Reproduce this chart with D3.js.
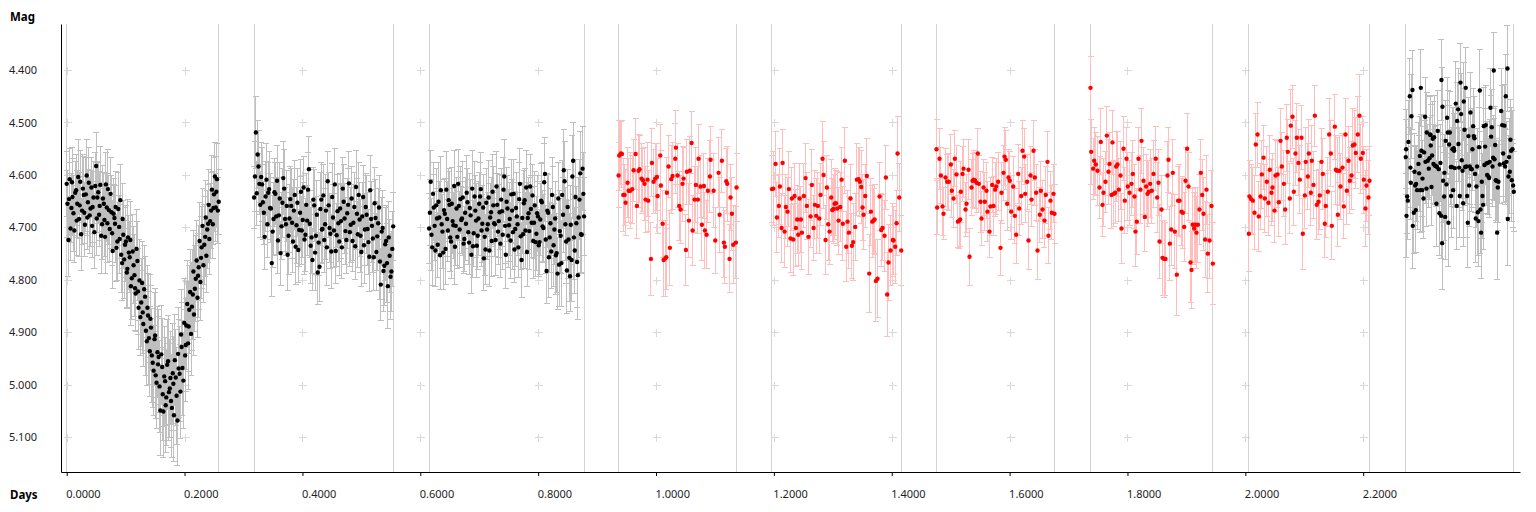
<!DOCTYPE html>
<html><head><meta charset="utf-8">
<script src="https://cdn.jsdelivr.net/npm/d3@7"></script>
<style>body{margin:0;background:#fff}svg{display:block}</style>
</head><body><svg id="c" width="1536" height="512"></svg>
<script>
// ---- data: rows are [day, magnitude, error in mmag] ----
const xTicks = [0, 0.2, 0.4, 0.6, 0.8, 1.0, 1.2, 1.4, 1.6, 1.8, 2.0, 2.2];
const yTicks = [4.4, 4.5, 4.6, 4.7, 4.8, 4.9, 5.0, 5.1];
const xTitle = "Days", yTitle = "Mag";

const seg1 = [[0.000,4.617,62],[0.003,4.724,70],[0.005,4.608,58],[0.008,4.663,66],[0.010,4.642,73],[0.013,4.706,60],[0.016,4.629,68],[0.018,4.655,64],[0.021,4.684,71],[0.023,4.613,59],
[0.026,4.668,65],[0.029,4.638,74],[0.031,4.695,61],[0.034,4.601,69],[0.036,4.652,63],[0.039,4.677,72],[0.042,4.624,58],[0.044,4.661,67],[0.047,4.709,70],[0.050,4.583,64],
[0.052,4.643,66],[0.055,4.676,61],[0.057,4.619,73],[0.060,4.694,68],[0.063,4.655,59],[0.065,4.718,70],[0.068,4.662,64],[0.070,4.627,75],[0.073,4.703,62],[0.076,4.671,69],
[0.078,4.745,71],[0.081,4.682,63],[0.083,4.661,67],[0.086,4.727,74],[0.089,4.699,60],[0.091,4.648,68],[0.094,4.768,72],[0.096,4.714,65],[0.099,4.733,70],[0.102,4.786,66],
[0.104,4.719,73],[0.107,4.757,68],[0.109,4.812,75],[0.112,4.746,70],[0.115,4.791,78],[0.117,4.826,72],[0.120,4.764,76],[0.122,4.853,80],[0.125,4.871,74],[0.128,4.806,79],
[0.130,4.884,82],[0.133,4.832,77],[0.136,4.917,84],[0.138,4.868,80],[0.141,4.936,86],[0.143,4.891,81],[0.146,4.958,85],[0.149,4.913,88],[0.151,4.982,83],[0.154,4.938,87],
[0.156,4.947,90],[0.159,5.049,86],[0.162,4.966,92],[0.164,5.051,88],[0.167,4.993,84],[0.169,5.024,91],[0.172,4.955,87],[0.175,5.007,93],[0.177,5.031,89],[0.180,4.978,95],
[0.182,5.058,88],[0.185,4.986,92],[0.188,5.068,86],[0.190,4.969,94],[0.193,5.013,90],[0.195,4.928,85],[0.198,4.992,91],[0.201,4.944,87],[0.203,4.887,83],[0.206,4.921,88],
[0.208,4.857,84],[0.211,4.903,80],[0.214,4.828,86],[0.216,4.866,78],[0.219,4.798,82],[0.222,4.834,76],[0.224,4.776,80],[0.227,4.804,74],[0.229,4.738,78],[0.232,4.772,72],
[0.235,4.718,76],[0.237,4.754,70],[0.240,4.693,74],[0.242,4.722,68],[0.245,4.668,72],[0.248,4.694,66],[0.250,4.637,70],[0.253,4.662,64],[0.255,4.608,68],[0.258,4.651,62]];

const seg1b = [[0.0013,4.655,64],[0.0040,4.646,70],[0.0065,4.702,61],[0.0090,4.614,67],[0.0115,4.673,72],[0.0145,4.634,60],[0.0170,4.687,66],[0.0195,4.604,71],[0.0220,4.658,63],[0.0245,4.713,69],
[0.0275,4.626,65],[0.0300,4.672,58],[0.0325,4.637,70],[0.0350,4.681,62],[0.0375,4.615,67],[0.0405,4.664,73],[0.0430,4.697,61],[0.0455,4.643,68],[0.0485,4.621,64],[0.0510,4.683,70],
[0.0535,4.633,59],[0.0560,4.659,66],[0.0585,4.716,72],[0.0615,4.645,63],[0.0640,4.686,69],[0.0665,4.618,61],[0.0690,4.692,74],[0.0715,4.667,65],[0.0745,4.636,70],[0.0770,4.711,62],
[0.0795,4.674,68],[0.0820,4.693,73],[0.0845,4.739,64],[0.0875,4.665,70],[0.0900,4.722,66],[0.0925,4.752,72],[0.0950,4.684,68],[0.0975,4.761,74],[0.1005,4.727,69],[0.1030,4.779,76],
[0.1055,4.748,71],[0.1080,4.724,74],[0.1105,4.797,78],[0.1135,4.772,73],[0.1160,4.816,80],[0.1185,4.741,75],[0.1210,4.822,82],[0.1235,4.801,77],[0.1265,4.843,84],[0.1290,4.862,79],
[0.1315,4.818,83],[0.1345,4.897,86],[0.1370,4.853,81],[0.1395,4.911,88],[0.1420,4.874,84],[0.1445,4.944,89],[0.1475,4.973,86],[0.1500,4.906,90],[0.1525,4.996,87],[0.1550,4.961,92],
[0.1575,5.003,88],[0.1605,4.942,93],[0.1630,5.018,89],[0.1655,4.984,95],[0.1680,5.039,90],[0.1705,4.962,86],[0.1735,5.014,92],[0.1760,4.987,88],[0.1785,5.044,94],[0.1810,4.998,90],
[0.1835,4.953,87],[0.1865,5.021,93],[0.1890,4.941,89],[0.1915,4.979,91],[0.1940,4.904,86],[0.1965,4.968,90],[0.1995,4.882,84],[0.2020,4.924,88],[0.2045,4.846,82],[0.2070,4.889,86],
[0.2095,4.823,80],[0.2125,4.851,84],[0.2150,4.784,78],[0.2175,4.817,82],[0.2205,4.763,76],[0.2230,4.792,80],[0.2255,4.726,74],[0.2280,4.758,78],[0.2305,4.697,72],[0.2335,4.733,76],
[0.2360,4.681,70],[0.2385,4.704,74],[0.2410,4.657,68],[0.2435,4.688,72],[0.2465,4.628,66],[0.2490,4.663,70],[0.2515,4.603,64],[0.2540,4.632,68],[0.2565,4.668,63]];

const seg2 = [[0.318,4.643,60],[0.321,4.519,68],[0.324,4.561,64],[0.327,4.617,58],[0.330,4.604,66],[0.333,4.652,71],[0.336,4.718,62],[0.339,4.609,69],[0.342,4.634,57],[0.345,4.663,65],
[0.348,4.768,63],[0.351,4.684,70],[0.354,4.636,59],[0.357,4.611,67],[0.360,4.677,72],[0.363,4.749,61],[0.366,4.653,66],[0.369,4.626,74],[0.372,4.694,60],[0.375,4.752,68],
[0.378,4.683,64],[0.381,4.659,71],[0.384,4.727,58],[0.387,4.638,66],[0.390,4.696,73],[0.393,4.743,62],[0.396,4.672,69],[0.399,4.706,65],[0.402,4.624,60],[0.405,4.714,70],
[0.408,4.687,67],[0.411,4.589,63],[0.414,4.735,72],[0.417,4.762,59],[0.420,4.658,68],[0.423,4.716,74],[0.426,4.786,61],[0.429,4.775,66],[0.432,4.647,70],[0.434,4.703,64],
[0.437,4.724,62],[0.440,4.668,69],[0.443,4.612,57],[0.446,4.701,65],[0.449,4.746,71],[0.452,4.681,63],[0.455,4.618,68],[0.458,4.715,60],[0.461,4.692,73],[0.464,4.664,66],
[0.467,4.738,59],[0.470,4.651,70],[0.473,4.707,64],[0.476,4.673,67],[0.479,4.616,61],[0.482,4.695,72],[0.485,4.726,58],[0.488,4.661,66],[0.491,4.623,69],[0.494,4.713,63],
[0.497,4.685,71],[0.500,4.747,65],[0.503,4.642,60],[0.506,4.704,68],[0.509,4.676,74],[0.512,4.728,62],[0.515,4.629,67],[0.518,4.697,70],[0.521,4.757,64],[0.524,4.682,73],
[0.527,4.717,66],[0.530,4.662,61],[0.533,4.809,69],[0.536,4.701,72],[0.539,4.773,75],[0.542,4.726,68],[0.545,4.812,80],[0.548,4.754,70],[0.551,4.784,77],[0.554,4.698,65]];

const seg2b = [[0.3195,4.603,66],[0.3225,4.635,61],[0.3255,4.584,69],[0.3285,4.657,63],[0.3315,4.618,70],[0.3345,4.672,60],[0.3375,4.641,67],[0.3405,4.694,64],[0.3435,4.627,71],[0.3465,4.664,59],
[0.3495,4.708,68],[0.3525,4.633,65],[0.3555,4.679,72],[0.3585,4.725,62],[0.3615,4.645,69],[0.3645,4.698,64],[0.3675,4.606,70],[0.3705,4.684,61],[0.3735,4.659,67],[0.3765,4.716,73],
[0.3795,4.646,63],[0.3825,4.691,68],[0.3855,4.668,60],[0.3885,4.737,71],[0.3915,4.653,65],[0.3945,4.705,69],[0.3975,4.632,62],[0.4005,4.686,72],[0.4035,4.723,66],[0.4065,4.657,60],
[0.4095,4.628,70],[0.4125,4.693,64],[0.4155,4.719,68],[0.4185,4.647,61],[0.4215,4.748,73],[0.4245,4.676,66],[0.4275,4.729,63],[0.4305,4.665,70],[0.4330,4.704,65],[0.4355,4.639,59],
[0.4385,4.694,68],[0.4415,4.738,72],[0.4445,4.658,62],[0.4475,4.712,67],[0.4505,4.642,64],[0.4535,4.706,70],[0.4565,4.745,61],[0.4595,4.669,69],[0.4625,4.727,65],[0.4655,4.688,71],
[0.4685,4.626,60],[0.4715,4.683,67],[0.4745,4.724,63],[0.4775,4.657,70],[0.4805,4.709,66],[0.4835,4.645,62],[0.4865,4.691,72],[0.4895,4.736,64],[0.4925,4.674,68],[0.4955,4.638,61],
[0.4985,4.716,70],[0.5015,4.679,65],[0.5045,4.734,73],[0.5075,4.661,63],[0.5105,4.703,69],[0.5135,4.756,66],[0.5165,4.684,71],[0.5195,4.721,64],[0.5225,4.654,68],[0.5255,4.747,74],
[0.5285,4.692,67],[0.5315,4.765,72],[0.5345,4.708,65],[0.5375,4.783,78],[0.5405,4.732,70],[0.5435,4.768,76],[0.5465,4.719,69],[0.5495,4.794,82],[0.5525,4.741,72]];

const seg3 = [[0.6150,4.702,66],[0.6177,4.613,60],[0.6203,4.738,72],[0.6230,4.662,63],[0.6256,4.744,69],[0.6283,4.683,58],[0.6309,4.651,74],[0.6336,4.753,65],[0.6363,4.694,61],[0.6389,4.748,70],
[0.6416,4.674,67],[0.6442,4.628,73],[0.6469,4.706,59],[0.6495,4.657,64],[0.6522,4.727,71],[0.6549,4.688,62],[0.6575,4.621,68],[0.6602,4.697,75],[0.6628,4.718,60],[0.6655,4.659,66],
[0.6681,4.646,63],[0.6708,4.683,70],[0.6735,4.731,57],[0.6761,4.672,68],[0.6788,4.634,72],[0.6814,4.709,61],[0.6841,4.663,65],[0.6867,4.752,74],[0.6894,4.736,59],[0.6921,4.641,67],
[0.6947,4.687,71],[0.6974,4.716,64],[0.7000,4.655,60],[0.7027,4.627,69],[0.7053,4.693,73],[0.7080,4.759,62],[0.7107,4.742,66],[0.7133,4.704,58],[0.7160,4.643,70],[0.7186,4.681,65],
[0.7213,4.726,68],[0.7239,4.658,74],[0.7266,4.694,61],[0.7293,4.622,67],[0.7319,4.708,63],[0.7346,4.671,72],[0.7372,4.647,59],[0.7399,4.714,66],[0.7425,4.603,70],[0.7452,4.752,64],
[0.7479,4.664,62],[0.7505,4.696,69],[0.7532,4.725,73],[0.7558,4.668,60],[0.7585,4.636,66],[0.7611,4.703,71],[0.7638,4.679,64],[0.7664,4.738,58],[0.7691,4.617,68],[0.7718,4.762,72],
[0.7744,4.713,65],[0.7771,4.648,61],[0.7797,4.624,70],[0.7824,4.682,67],[0.7850,4.707,74],[0.7877,4.665,63],[0.7904,4.639,59],[0.7930,4.691,69],[0.7957,4.728,66],[0.7983,4.673,72],
[0.8010,4.734,60],[0.8036,4.685,68],[0.8063,4.652,75],[0.8090,4.701,64],[0.8116,4.598,70],[0.8143,4.783,62],[0.8169,4.672,73],[0.8196,4.719,67],[0.8222,4.746,71],[0.8249,4.661,78],
[0.8276,4.704,66],[0.8302,4.753,74],[0.8329,4.788,69],[0.8355,4.771,80],[0.8382,4.716,72],[0.8408,4.638,65],[0.8435,4.591,77],[0.8462,4.694,70],[0.8488,4.782,83],[0.8515,4.723,75],
[0.8541,4.793,68],[0.8568,4.762,79],[0.8594,4.573,73],[0.8621,4.744,82],[0.8648,4.692,70],[0.8674,4.791,85],[0.8701,4.647,76],[0.8727,4.713,72],[0.8754,4.588,80],[0.8780,4.679,74]];

const seg3b = [[0.6163,4.672,63],[0.6190,4.714,69],[0.6217,4.636,60],[0.6243,4.697,66],[0.6270,4.658,71],[0.6296,4.733,62],[0.6323,4.681,68],[0.6349,4.629,64],[0.6376,4.708,70],[0.6403,4.667,59],
[0.6429,4.741,67],[0.6456,4.684,72],[0.6482,4.648,61],[0.6509,4.719,65],[0.6535,4.655,69],[0.6562,4.696,63],[0.6589,4.737,71],[0.6615,4.664,60],[0.6642,4.617,66],[0.6668,4.704,73],
[0.6695,4.686,64],[0.6721,4.643,68],[0.6748,4.722,62],[0.6775,4.693,70],[0.6801,4.652,65],[0.6828,4.729,61],[0.6854,4.677,69],[0.6881,4.626,72],[0.6907,4.711,63],[0.6934,4.668,67],
[0.6960,4.735,60],[0.6987,4.683,70],[0.7014,4.641,64],[0.7040,4.706,68],[0.7067,4.662,62],[0.7093,4.718,73],[0.7120,4.653,65],[0.7146,4.694,61],[0.7173,4.744,69],[0.7200,4.671,66],
[0.7226,4.632,71],[0.7253,4.692,63],[0.7279,4.724,67],[0.7306,4.657,60],[0.7332,4.688,70],[0.7359,4.731,64],[0.7386,4.669,68],[0.7412,4.628,62],[0.7439,4.697,72],[0.7465,4.651,65],
[0.7492,4.716,61],[0.7518,4.684,69],[0.7545,4.637,66],[0.7572,4.709,71],[0.7598,4.742,63],[0.7625,4.663,67],[0.7651,4.694,60],[0.7678,4.646,70],[0.7704,4.717,64],[0.7731,4.682,68],
[0.7757,4.654,62],[0.7784,4.706,73],[0.7811,4.747,65],[0.7837,4.673,69],[0.7864,4.622,61],[0.7890,4.691,67],[0.7917,4.726,72],[0.7943,4.658,64],[0.7970,4.712,70],[0.7997,4.679,66],
[0.8023,4.728,62],[0.8050,4.649,71],[0.8076,4.698,68],[0.8103,4.614,74],[0.8129,4.723,65],[0.8156,4.668,70],[0.8183,4.757,77],[0.8209,4.692,67],[0.8236,4.638,72],[0.8262,4.734,79],
[0.8289,4.683,70],[0.8315,4.749,75],[0.8342,4.645,68],[0.8368,4.707,78],[0.8395,4.768,82],[0.8422,4.676,72],[0.8448,4.612,76],[0.8475,4.727,80],[0.8501,4.661,71],[0.8528,4.758,84],
[0.8554,4.695,75],[0.8581,4.603,78],[0.8608,4.719,81],[0.8634,4.642,72],[0.8661,4.766,86],[0.8687,4.681,77],[0.8714,4.597,80],[0.8740,4.714,74],[0.8767,4.636,78]];

const seg4 = [[0.9365,4.601,62],[0.9376,4.563,66],[0.9405,4.559,60],[0.9422,4.560,64],[0.9444,4.638,70],[0.9467,4.638,58],[0.9484,4.653,63],[0.9518,4.615,67],[0.9535,4.630,61],[0.9563,4.630,72],
[0.9597,4.627,65],[0.9620,4.591,59],[0.9654,4.560,68],[0.9676,4.659,62],[0.9704,4.592,70],[0.9721,4.589,64],[0.9755,4.607,66],[0.9778,4.610,60],[0.9806,4.617,69],[0.9823,4.647,63],
[0.9857,4.609,71],[0.9868,4.649,58],[0.9914,4.760,70],[0.9931,4.577,65],[0.9959,4.613,61],[0.9987,4.607,67],[1.0016,4.604,63],[1.0027,4.640,72],[1.0072,4.563,60],[1.0083,4.620,66],
[1.0112,4.693,64],[1.0129,4.762,69],[1.0157,4.759,73],[1.0174,4.757,62],[1.0185,4.634,68],[1.0213,4.584,59],[1.0236,4.739,71],[1.0259,4.608,65],[1.0281,4.602,63],[1.0327,4.569,67],
[1.0338,4.548,70],[1.0366,4.601,61],[1.0394,4.659,66],[1.0417,4.666,64],[1.0451,4.617,72],[1.0468,4.607,60],[1.0508,4.743,68],[1.0525,4.594,62],[1.0558,4.687,70],[1.0575,4.592,65],
[1.0604,4.539,59],[1.0621,4.706,67],[1.0655,4.647,63],[1.0677,4.619,71],[1.0711,4.647,64],[1.0722,4.569,66],[1.0756,4.622,60],[1.0779,4.695,69],[1.0813,4.621,62],[1.0830,4.706,73],
[1.0858,4.714,65],[1.0881,4.630,61],[1.0915,4.603,68],[1.0926,4.571,64],[1.0977,4.630,70],[1.1005,4.725,63],[1.1062,4.596,67],[1.1079,4.676,72],[1.1118,4.573,60],[1.1152,4.729,66],
[1.1169,4.737,69],[1.1192,4.612,62],[1.1209,4.617,71],[1.1248,4.760,65],[1.1265,4.643,63],[1.1288,4.674,70],[1.1311,4.733,74],[1.1356,4.729,68],[1.1367,4.624,64]];

const seg5 = [[1.1967,4.627,64],[1.1989,4.626,70],[1.2029,4.579,62],[1.2052,4.681,67],[1.2085,4.659,60],[1.2102,4.622,72],[1.2131,4.701,65],[1.2148,4.577,63],[1.2182,4.708,69],[1.2204,4.661,61],
[1.2232,4.670,66],[1.2255,4.627,71],[1.2283,4.721,64],[1.2306,4.645,60],[1.2329,4.723,68],[1.2351,4.640,62],[1.2374,4.701,73],[1.2396,4.685,65],[1.2413,4.714,59],[1.2436,4.645,67],
[1.2459,4.685,63],[1.2476,4.710,70],[1.2510,4.640,61],[1.2538,4.606,66],[1.2560,4.659,64],[1.2589,4.718,72],[1.2623,4.679,60],[1.2645,4.619,68],[1.2674,4.701,62],[1.2696,4.657,65],
[1.2719,4.678,71],[1.2747,4.659,63],[1.2770,4.683,67],[1.2792,4.638,59],[1.2826,4.569,70],[1.2843,4.600,64],[1.2877,4.724,66],[1.2900,4.624,61],[1.2922,4.694,69],[1.2945,4.708,63],
[1.2973,4.643,72],[1.2990,4.667,60],[1.3013,4.665,65],[1.3030,4.655,68],[1.3053,4.654,62],[1.3075,4.664,70],[1.3098,4.687,64],[1.3126,4.661,66],[1.3149,4.609,61],[1.3171,4.693,71],
[1.3205,4.573,63],[1.3228,4.737,67],[1.3250,4.689,60],[1.3273,4.710,69],[1.3301,4.645,65],[1.3324,4.735,62],[1.3346,4.728,73],[1.3380,4.699,64],[1.3409,4.609,68],[1.3437,4.608,61],
[1.3460,4.613,66],[1.3482,4.623,70],[1.3505,4.662,63],[1.3522,4.676,67],[1.3550,4.640,60],[1.3578,4.602,72],[1.3618,4.788,75],[1.3646,4.670,64],[1.3669,4.689,69],[1.3692,4.687,62],
[1.3709,4.685,66],[1.3731,4.802,78],[1.3759,4.798,74],[1.3793,4.641,65],[1.3822,4.705,70],[1.3844,4.701,63],[1.3878,4.716,68],[1.3901,4.605,61],[1.3923,4.828,80],[1.3946,4.767,72],
[1.3980,4.744,66],[1.4020,4.724,70],[1.4031,4.725,64],[1.4059,4.737,69],[1.4082,4.692,62],[1.4099,4.559,71],[1.4127,4.643,65],[1.4161,4.744,67]];

const seg6 = [[1.4760,4.551,56],[1.4771,4.662,52],[1.4811,4.569,58],[1.4834,4.601,53],[1.4862,4.660,56],[1.4879,4.674,50],[1.4913,4.605,55],[1.4941,4.613,52],[1.4969,4.613,54],[1.5003,4.580,57],
[1.5020,4.630,51],[1.5049,4.645,55],[1.5071,4.569,53],[1.5099,4.599,56],[1.5122,4.689,50],[1.5145,4.687,54],[1.5162,4.685,52],[1.5173,4.632,58],[1.5201,4.598,53],[1.5218,4.588,55],
[1.5252,4.666,51],[1.5269,4.655,55],[1.5303,4.590,57],[1.5320,4.756,54],[1.5354,4.624,54],[1.5371,4.611,52],[1.5393,4.609,55],[1.5416,4.611,53],[1.5439,4.615,56],[1.5461,4.559,48],
[1.5478,4.617,55],[1.5507,4.651,58],[1.5524,4.683,52],[1.5558,4.624,54],[1.5580,4.651,55],[1.5608,4.630,53],[1.5625,4.670,57],[1.5659,4.708,50],[1.5676,4.660,55],[1.5705,4.619,53],
[1.5727,4.659,56],[1.5755,4.628,51],[1.5772,4.622,54],[1.5806,4.613,55],[1.5846,4.739,52],[1.5863,4.634,58],[1.5897,4.596,53],[1.5914,4.565,55],[1.5936,4.571,56],[1.5959,4.655,51],
[1.5982,4.605,54],[1.6004,4.611,55],[1.6027,4.670,53],[1.6061,4.622,57],[1.6089,4.678,52],[1.6112,4.714,55],[1.6146,4.598,56],[1.6163,4.664,51],[1.6197,4.640,54],[1.6219,4.554,58],
[1.6248,4.565,53],[1.6265,4.636,55],[1.6298,4.613,52],[1.6321,4.725,55],[1.6355,4.601,56],[1.6372,4.647,51],[1.6406,4.554,57],[1.6428,4.605,54],[1.6451,4.634,53],[1.6474,4.744,55],
[1.6513,4.676,52],[1.6530,4.630,55],[1.6559,4.666,56],[1.6592,4.687,51],[1.6615,4.638,54],[1.6643,4.575,58],[1.6660,4.716,53],[1.6694,4.649,55],[1.6717,4.672,52],[1.6745,4.636,55],
[1.6762,4.674,56]];

const seg7 = [[1.7373,4.434,60],[1.7384,4.556,62],[1.7418,4.588,58],[1.7435,4.573,64],[1.7463,4.580,60],[1.7492,4.592,66],[1.7526,4.624,59],[1.7548,4.537,63],[1.7577,4.657,61],[1.7593,4.634,65],
[1.7627,4.613,58],[1.7650,4.525,55],[1.7678,4.594,62],[1.7695,4.579,60],[1.7729,4.638,64],[1.7746,4.538,61],[1.7769,4.636,63],[1.7791,4.634,59],[1.7808,4.584,66],[1.7831,4.580,62],
[1.7854,4.628,60],[1.7882,4.601,64],[1.7899,4.702,66],[1.7933,4.550,61],[1.7955,4.649,63],[1.7984,4.569,59],[1.8006,4.622,65],[1.8035,4.634,62],[1.8069,4.617,60],[1.8091,4.598,64],
[1.8119,4.641,61],[1.8136,4.708,67],[1.8159,4.689,63],[1.8187,4.569,60],[1.8221,4.628,65],[1.8238,4.535,62],[1.8272,4.611,64],[1.8295,4.680,66],[1.8317,4.622,61],[1.8340,4.636,63],
[1.8363,4.632,60],[1.8385,4.617,65],[1.8413,4.630,62],[1.8442,4.598,64],[1.8481,4.569,61],[1.8504,4.643,66],[1.8527,4.615,63],[1.8544,4.727,70],[1.8578,4.666,64],[1.8595,4.758,72],
[1.8623,4.760,74],[1.8645,4.760,70],[1.8679,4.601,65],[1.8696,4.571,62],[1.8719,4.731,71],[1.8742,4.704,68],[1.8770,4.596,63],[1.8804,4.708,70],[1.8838,4.790,78],[1.8860,4.649,66],
[1.8883,4.649,68],[1.8917,4.670,64],[1.8940,4.672,69],[1.8962,4.699,66],[1.8985,4.611,63],[1.9013,4.550,67],[1.9036,4.622,65],[1.9070,4.767,76],[1.9087,4.781,74],[1.9109,4.695,70],
[1.9132,4.702,68],[1.9149,4.695,72],[1.9171,4.710,69],[1.9194,4.695,71],[1.9222,4.666,66],[1.9245,4.596,64],[1.9268,4.638,68],[1.9290,4.674,70],[1.9318,4.723,73],[1.9341,4.628,66],
[1.9364,4.750,75],[1.9392,4.725,72],[1.9426,4.659,68],[1.9449,4.769,78]];

const seg8 = [[2.0060,4.712,72],[2.0071,4.641,68],[2.0099,4.646,66],[2.0128,4.649,64],[2.0156,4.672,70],[2.0178,4.542,60],[2.0207,4.523,62],[2.0229,4.679,66],[2.0258,4.641,63],[2.0280,4.599,65],
[2.0309,4.567,61],[2.0331,4.645,64],[2.0365,4.613,67],[2.0393,4.653,62],[2.0416,4.590,66],[2.0444,4.634,63],[2.0461,4.624,65],[2.0495,4.668,61],[2.0512,4.601,68],[2.0546,4.599,64],
[2.0569,4.652,66],[2.0597,4.535,62],[2.0620,4.584,65],[2.0654,4.617,63],[2.0676,4.666,67],[2.0704,4.529,64],[2.0721,4.556,61],[2.0755,4.645,66],[2.0772,4.506,68],[2.0801,4.489,60],
[2.0823,4.632,64],[2.0851,4.559,62],[2.0874,4.529,66],[2.0902,4.577,63],[2.0925,4.609,65],[2.0953,4.529,61],[2.0976,4.712,68],[2.1010,4.639,64],[2.1027,4.575,66],[2.1061,4.603,62],
[2.1078,4.559,65],[2.1112,4.634,63],[2.1129,4.573,67],[2.1157,4.619,64],[2.1180,4.487,58],[2.1213,4.657,66],[2.1242,4.651,62],[2.1264,4.639,65],[2.1293,4.575,63],[2.1315,4.598,67],
[2.1349,4.693,64],[2.1366,4.659,61],[2.1400,4.632,66],[2.1423,4.523,68],[2.1451,4.559,63],[2.1468,4.697,65],[2.1519,4.508,62],[2.1536,4.590,66],[2.1558,4.592,64],[2.1570,4.676,61],
[2.1598,4.592,67],[2.1615,4.622,63],[2.1649,4.586,65],[2.1672,4.660,62],[2.1700,4.523,68],[2.1723,4.630,64],[2.1751,4.573,66],[2.1774,4.611,63],[2.1802,4.601,65],[2.1824,4.544,70],
[2.1853,4.542,64],[2.1875,4.558,67],[2.1909,4.523,72],[2.1937,4.487,78],[2.1960,4.569,66],[2.1994,4.558,70],[2.2011,4.609,64],[2.2039,4.664,72],[2.2056,4.620,68],[2.2090,4.643,70],
[2.2107,4.611,66]];

const seg9 = [[2.2723,4.566,72],[2.2729,4.551,75],[2.2735,4.678,80],[2.2746,4.641,70],[2.2757,4.649,74],[2.2768,4.537,78],[2.2791,4.450,72],[2.2802,4.586,76],[2.2808,4.615,70],[2.2819,4.488,80],
[2.2836,4.438,75],[2.2842,4.697,82],[2.2859,4.672,78],[2.2870,4.594,73],[2.2882,4.620,77],[2.2893,4.667,80],[2.2898,4.617,71],[2.2915,4.629,75],[2.2938,4.579,79],[2.2949,4.597,72],
[2.2961,4.564,76],[2.2972,4.629,80],[2.2978,4.434,74],[2.2989,4.554,70],[2.3000,4.629,78],[2.3006,4.607,73],[2.3023,4.645,77],[2.3034,4.557,71],[2.3051,4.489,75],[2.3057,4.575,79],
[2.3074,4.626,72],[2.3079,4.519,76],[2.3096,4.573,70],[2.3113,4.588,74],[2.3125,4.568,78],[2.3136,4.523,72],[2.3142,4.524,75],[2.3147,4.544,79],[2.3159,4.623,73],[2.3170,4.563,77],
[2.3181,4.531,71],[2.3193,4.579,75],[2.3204,4.528,80],[2.3215,4.582,74],[2.3232,4.583,78],[2.3243,4.655,82],[2.3255,4.585,72],[2.3266,4.516,76],[2.3283,4.589,70],[2.3294,4.673,80],
[2.3311,4.577,74],[2.3323,4.678,82],[2.3328,4.419,78],[2.3340,4.730,88],[2.3345,4.470,75],[2.3357,4.611,79],[2.3374,4.641,84],[2.3379,4.596,73],[2.3391,4.680,81],[2.3402,4.535,77],
[2.3413,4.618,71],[2.3424,4.491,76],[2.3436,4.519,80],[2.3447,4.691,84],[2.3458,4.542,74],[2.3470,4.519,78],[2.3487,4.585,72],[2.3492,4.640,80],[2.3504,4.585,75],[2.3515,4.551,79],
[2.3526,4.629,73],[2.3538,4.549,77],[2.3543,4.554,71],[2.3555,4.587,75],[2.3571,4.464,80],[2.3588,4.659,84],[2.3594,4.497,74],[2.3611,4.475,78],[2.3617,4.541,72],[2.3628,4.586,76],
[2.3639,4.640,80],[2.3651,4.424,74],[2.3662,4.484,78],[2.3673,4.572,72],[2.3685,4.592,76],[2.3696,4.654,82],[2.3707,4.460,75],[2.3719,4.514,79],[2.3730,4.585,73],[2.3741,4.434,77],
[2.3752,4.584,71],[2.3764,4.640,80],[2.3775,4.691,86],[2.3786,4.526,74],[2.3798,4.620,78],[2.3809,4.584,72],[2.3820,4.481,76],[2.3832,4.589,80],[2.3843,4.589,74],[2.3854,4.551,78],
[2.3866,4.507,72],[2.3877,4.526,76],[2.3888,4.530,80],[2.3899,4.598,74],[2.3911,4.683,84],[2.3922,4.622,78],[2.3933,4.584,72],[2.3945,4.671,82],[2.3956,4.688,86],[2.3967,4.547,75],
[2.3979,4.439,79],[2.3990,4.666,83],[2.4001,4.710,88],[2.4013,4.613,77],[2.4024,4.640,81],[2.4035,4.657,85],[2.4047,4.507,74],[2.4058,4.581,78],[2.4069,4.546,72],[2.4080,4.505,76],
[2.4092,4.578,80],[2.4103,4.600,74],[2.4114,4.577,78],[2.4126,4.603,72],[2.4137,4.606,76],[2.4148,4.575,80],[2.4160,4.472,74],[2.4171,4.527,78],[2.4182,4.509,72],[2.4194,4.584,76],
[2.4205,4.567,80],[2.4216,4.401,72],[2.4228,4.570,78],[2.4239,4.543,74],[2.4250,4.610,80],[2.4261,4.611,76],[2.4273,4.710,90],[2.4284,4.624,82],[2.4295,4.613,78],[2.4318,4.580,74],
[2.4341,4.478,80],[2.4358,4.505,76],[2.4375,4.559,82],[2.4386,4.578,74],[2.4397,4.506,78],[2.4408,4.584,72],[2.4420,4.450,80],[2.4431,4.575,76],[2.4448,4.397,82],[2.4454,4.684,88],
[2.4465,4.603,78],[2.4476,4.566,74],[2.4488,4.594,80],[2.4499,4.533,76],[2.4510,4.554,82],[2.4522,4.610,78],[2.4533,4.551,74],[2.4544,4.620,80],[2.4556,4.632,76]];

const segments = [seg1.concat(seg1b), seg2.concat(seg2b), seg3.concat(seg3b), seg4, seg5, seg6, seg7, seg8, seg9];
const segColors = ["black", "black", "black", "red", "red", "red", "red", "red", "black"];

// ---- styling ----
const pointFill = {black: "#000000", red: "#ff0000"};
const barStroke = {black: "#bfbfbf", red: "#ffbfbf"};
const FONT = "'Noto Sans', 'Open Sans', sans-serif";

const svg = d3.select("#c");
const x = d3.scaleLinear().domain([-0.00967, 2.4661]).range([61, 1520]);
const y = d3.scaleLinear().domain([4.3123, 5.1662]).range([24, 472]);

// grid crosses
const gCross = svg.append("g").attr("stroke", "#d9d9d9").attr("stroke-width", 1)
  .attr("shape-rendering", "crispEdges").attr("fill", "none");
xTicks.forEach(xt => yTicks.forEach(yt => {
  const px = Math.round(x(xt)) + 0.5, py = Math.round(y(yt)) + 0.5;
  gCross.append("path").attr("d", `M${px-4},${py}H${px+4}M${px},${py-4}V${py+4}`);
}));

// segment separator lines
const gSep = svg.append("g").attr("stroke", "#d3d3d3").attr("shape-rendering", "crispEdges");
segments.forEach(seg => {
  d3.extent(seg, d => d[0]).forEach(t => {
    gSep.append("line").attr("x1", x(t)).attr("x2", x(t)).attr("y1", 24).attr("y2", 472);
  });
});

// error bars
segments.forEach((seg, i) => {
  const c = segColors[i];
  let p = "";
  seg.forEach(d => {
    const px = x(d[0]), e = d[2] / 1000;
    const y1 = y(d[1] - e), y2 = y(d[1] + e);
    p += `M${px},${y1}V${y2}M${px-3},${y1}H${px+3}M${px-3},${y2}H${px+3}`;
  });
  svg.append("path").attr("d", p).attr("fill", "none").attr("stroke", barStroke[c])
    .attr("stroke-width", 1).attr("shape-rendering", "crispEdges");
});

// points
segments.forEach((seg, i) => {
  const c = segColors[i];
  svg.append("g").selectAll("circle").data(seg).join("circle")
    .attr("cx", d => x(d[0])).attr("cy", d => y(d[1])).attr("r", 2.2)
    .attr("fill", pointFill[c]);
});

// axes
const xAxis = svg.append("g").attr("transform", "translate(0,472)")
  .call(d3.axisBottom(x).tickValues(xTicks).tickFormat(d3.format(".4f"))
    .tickSizeInner(4).tickSizeOuter(0).tickPadding(14));
xAxis.selectAll("text").attr("text-anchor", "start").attr("dx", "-1")
  .style("font-family", FONT).style("font-size", "11px").attr("fill", "#1e1e1e");
xAxis.select(".domain").attr("stroke", "#000");

const yAxis = svg.append("g").attr("transform", "translate(61,0)")
  .call(d3.axisLeft(y).tickValues(yTicks).tickFormat(d3.format(".3f"))
    .tickSize(0).tickPadding(24));
yAxis.selectAll("text").style("font-family", FONT).style("font-size", "11px").attr("fill", "#1e1e1e");
yAxis.select(".domain").attr("stroke", "#000");

svg.append("text").attr("x", 10).attr("y", 21).text(yTitle)
  .style("font-family", FONT).style("font-size", "11.5px").style("font-weight", "bold").attr("fill", "#000");
svg.append("text").attr("x", 10).attr("y", 499).text(xTitle)
  .style("font-family", FONT).style("font-size", "11.5px").style("font-weight", "bold").attr("fill", "#000");
</script></body></html>
